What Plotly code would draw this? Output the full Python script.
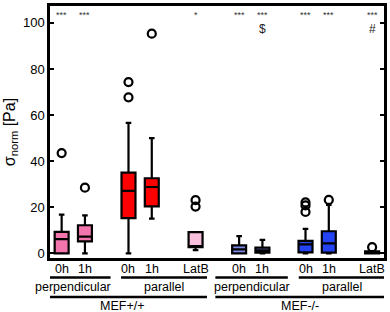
import plotly.graph_objects as go

# ---- data ----
positions = [0, 1, 2.87, 3.87, 5.75, 7.62, 8.62, 10.47, 11.47, 13.33]
cond_labels = ["0h", "1h", "0h", "1h", "LatB", "0h", "1h", "0h", "1h", "LatB"]
q1 = [0.0, 5.2, 15.3, 20.4, 2.7, 0.0, 0.3, 0.4, 0.3, 0.0]
median = [6.2, 7.3, 27.1, 28.8, 3.2, 1.7, 1.3, 3.9, 4.3, 0.4]
q3 = [9.3, 12.2, 35.0, 32.6, 9.2, 3.5, 2.5, 5.4, 9.6, 0.9]
lowfence = [0.0, 0.0, 0.0, 15.1, 1.4, 0.0, 0.0, 0.0, 0.0, 0.0]
upfence = [16.8, 16.5, 56.6, 50.0, 2.7, 7.5, 5.9, 10.6, 21.0, 1.0]
outliers = [[43.5], [28.5], [74.3, 67.7], [95.3], [23.1, 20.3], [], [], [22.1, 20.8, 18.0], [23.2], [2.7]]
colors = ["#f276ad", "#f276ad", "#ff0000", "#ff0000", "#f8bfdc",
          "#7f8ae6", "#7f8ae6", "#2443f2", "#2443f2", "#2443f2"]
signif = ["***", "***", "", "", "*", "***", "***", "***", "***", "***"]
signif2 = ["", "", "", "", "", "", "$", "", "", "#"]
groups = [("perpendicular", -1.09, 2.1), ("parallel", 2.55, 6.24),
          ("perpendicular", 6.6, 9.71), ("parallel", 10.18, 13.88)]
cells = [("MEF+/+", -1.09, 6.24), ("MEF-/-", 6.6, 13.88)]

fig = go.Figure()
for i, p in enumerate(positions):
    fig.add_trace(go.Box(
        x=[p], q1=[q1[i]], median=[median[i]], q3=[q3[i]],
        lowerfence=[lowfence[i]], upperfence=[upfence[i]],
        width=0.6, whiskerwidth=0.4, fillcolor=colors[i],
        line=dict(color="black", width=2.2), boxpoints=False,
        showlegend=False, hoverinfo="skip"))
ox, oy = [], []
for p, outs in zip(positions, outliers):
    for v in outs:
        ox.append(p)
        oy.append(v)
fig.add_trace(go.Scatter(x=ox, y=oy, mode="markers", showlegend=False,
                         marker=dict(symbol="circle-open", size=8, color="black",
                                     line=dict(width=2.2, color="black"))))

for p, s in zip(positions, signif):
    if s:
        fig.add_annotation(x=p, y=103.3, text=s, showarrow=False,
                           font=dict(size=9, color="#333"), yanchor="middle")
for p, s in zip(positions, signif2):
    if s:
        fig.add_annotation(x=p, y=97.5, text=s, showarrow=False,
                           font=dict(size=12, color="#222"), yanchor="middle")

for p, s in zip(positions, cond_labels):
    fig.add_annotation(x=p, y=-0.043, yref="paper", text=s, showarrow=False,
                       font=dict(size=12.5, color="black"), yanchor="middle")
for name, a, b in groups:
    fig.add_shape(type="line", x0=a, x1=b, y0=-0.077, y1=-0.077, yref="paper",
                  line=dict(color="black", width=2.5))
    fig.add_annotation(x=(a + b) / 2, y=-0.117, yref="paper", text=name,
                       showarrow=False, font=dict(size=12.5, color="black"),
                       yanchor="middle")
for name, a, b in cells:
    fig.add_shape(type="line", x0=a, x1=b, y0=-0.155, y1=-0.155, yref="paper",
                  line=dict(color="black", width=2.5))
    fig.add_annotation(x=(a + b) / 2, y=-0.19, yref="paper", text=name,
                       showarrow=False, font=dict(size=12.5, color="black"),
                       yanchor="middle")

fig.update_layout(
    width=390, height=312,
    margin=dict(l=50, r=3, t=3, b=54),
    paper_bgcolor="white", plot_bgcolor="white",
    font=dict(family="Liberation Sans, Arial, sans-serif", color="black"),
    showlegend=False,
)
fig.update_xaxes(range=[-0.5, 13.84], showticklabels=False, ticks="",
                 showline=True, linecolor="black", linewidth=2.5, mirror=True,
                 showgrid=False, zeroline=False)
fig.update_yaxes(range=[-2, 107.3], tickvals=[0, 20, 40, 60, 80, 100],
                 ticks="inside", ticklen=4, tickwidth=2, tickcolor="black",
                 showline=True, linecolor="black", linewidth=2.5, mirror="ticks",
                 showgrid=False, zeroline=False, tickfont=dict(size=13),
                 title=dict(text="σ<sub>norm</sub> [Pa]", font=dict(size=16), standoff=4))

fig.write_html("out.html", config={"displayModeBar": False},
               post_script="document.body.style.margin='0';document.body.style.overflow='hidden';")
